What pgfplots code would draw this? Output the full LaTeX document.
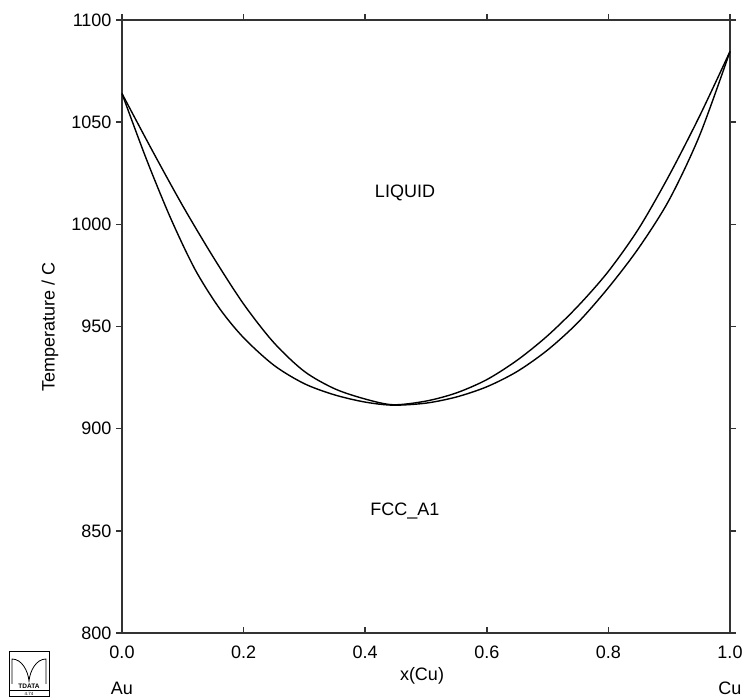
\documentclass[border=0pt]{standalone}
\usepackage{fontspec}
\setmainfont{Liberation Sans}
\usepackage{pgfplots}
\pgfplotsset{compat=1.18}
\definecolor{axc}{gray}{0.2}
\begin{document}
\begin{tikzpicture}[x=1pt,y=1pt]
\useasboundingbox (0,0) rectangle (748,697);
\begin{axis}[
  at={(122pt,64pt)}, anchor=south west,
  scale only axis, width=608pt, height=613pt,
  xmin=0, xmax=1, ymin=800, ymax=1100,
  xtick={0,0.2,0.4,0.6,0.8,1.0},
  xticklabels={0.0,0.2,0.4,0.6,0.8,1.0},
  ytick={800,850,900,950,1000,1050,1100},
  tick align=outside,
  xtick pos=upper, xticklabel pos=lower,
  ytick pos=both, yticklabel pos=left,
  major tick length=6pt,
  axis line style={draw=axc, line width=1.6pt},
  every tick/.style={draw=axc, line width=1.6pt},
  tick label style={font=\fontsize{18}{21}\selectfont},
  /pgf/number format/assume math mode=true,
  /pgf/number format/1000 sep={},
  xticklabel style={yshift=-3pt},
  yticklabel style={xshift=-1pt},
  clip=false,
]
% liquidus
\addplot[black, line width=1.4pt, smooth, tension=0.5] coordinates {
(0,1064) (0.05,1036) (0.10,1009) (0.15,984) (0.20,961) (0.25,942)
(0.30,928) (0.35,919.5) (0.40,914.5) (0.446,911.7) (0.50,913.5) (0.55,917.5)
(0.60,924) (0.65,933.5) (0.70,945.5) (0.75,960) (0.80,977) (0.85,998)
(0.90,1024) (0.95,1053) (1,1084.6)
};
% solidus
\addplot[black, line width=1.4pt, smooth, tension=0.5] coordinates {
(0,1064) (0.04,1032) (0.08,1003) (0.12,978) (0.16,959) (0.20,944.5)
(0.25,931) (0.30,922) (0.35,916.5) (0.40,913) (0.446,911.5) (0.50,912.5)
(0.55,915.5) (0.60,920.5) (0.65,928) (0.70,938.5) (0.75,952) (0.80,969)
(0.85,988.5) (0.90,1012) (0.95,1043.5) (1,1084.6)
};
\end{axis}
\begin{axis}[
  at={(122pt,64pt)}, anchor=south west,
  scale only axis, width=608pt, height=613pt,
  xmin=0, xmax=1, ymin=800, ymax=1100,
  xtick={0,0.2,0.4,0.6,0.8,1.0}, xticklabels={},
  ytick=\empty,
  tick align=inside, xtick pos=lower,
  major tick length=6pt,
  axis line style={draw=none},
  every tick/.style={draw=axc, line width=1.6pt},
]
\end{axis}
\node[rotate=90, font=\fontsize{18}{21}\selectfont] at (50,370) {Temperature / C};
\node[font=\fontsize{18}{21}\selectfont] at (422,21) {x(Cu)};
\node[font=\fontsize{18}{21}\selectfont] at (122,9) {Au};
\node[font=\fontsize{18}{21}\selectfont] at (730,9) {Cu};
\node[font=\fontsize{18}{21}\selectfont] at (405,504) {LIQUID};
\node[font=\fontsize{18}{21}\selectfont] at (405,186) {FCC\_A1};
% logo
\draw[line width=0.6pt] (9,0.5) rectangle (49,46);
\draw[line width=0.6pt] (9,7) -- (49,7);
\draw[line width=0.8pt] (12,13) -- (12,38) .. controls (22,38) and (28,26) .. (29,16) .. controls (30,26) and (36,38) .. (46,38) -- (46,13);
\node[font=\fontsize{6.5}{7}\selectfont\bfseries, inner sep=0] at (29,11) {TDATA};
\node[font=\fontsize{4.5}{5}\selectfont, inner sep=0] at (29,3.5) {4.74};
\end{tikzpicture}
\end{document}
